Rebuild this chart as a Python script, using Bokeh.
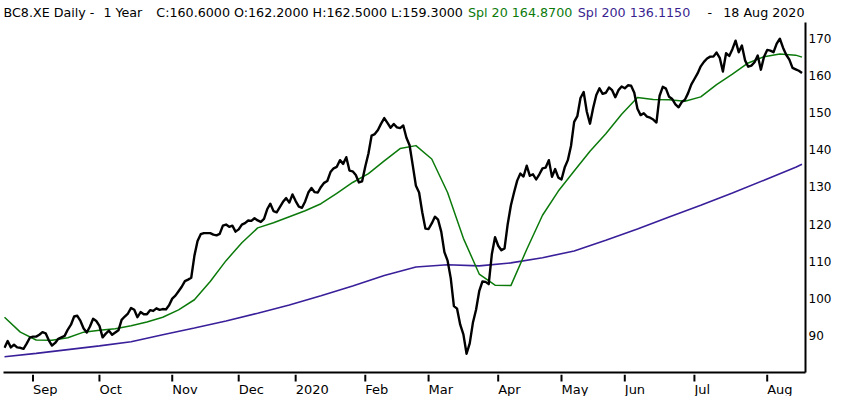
import pandas as pd
from bokeh.plotting import figure
from bokeh.layouts import column
from bokeh.models import Range1d, FixedTicker
from bokeh.core.properties import value
from bokeh.embed import file_html
from bokeh.resources import INLINE

# ---------------- data ----------------
START = "2019-08-20"
END = "2020-08-18"
HOLIDAYS = ["2019-12-24", "2019-12-25", "2019-12-26", "2019-12-31",
            "2020-01-01", "2020-04-10", "2020-04-13", "2020-05-01"]

CLOSE = [
    86.8, 88.6, 86.9, 87.6, 86.9, 86.8, 86.5, 87.9, 89.5, 89.8,
    89.8, 90.3, 91.0, 90.7, 88.8, 87.4, 88.1, 89.2, 89.6, 90.0,
    91.7, 93.0, 95.2, 95.4, 94.0, 92.0, 90.9, 92.5, 94.6, 94.0,
    92.7, 89.6, 90.6, 91.4, 90.3, 90.9, 91.5, 94.3, 95.2, 96.0,
    97.5, 97.0, 95.0, 96.4, 95.8, 95.8, 96.9, 96.7, 97.4, 97.0,
    97.2, 97.1, 98.2, 100.0, 100.8, 102.0, 103.2, 104.7, 105.1, 105.6,
    111.5, 115.5, 117.3, 117.6, 117.6, 117.6, 117.2, 117.0, 117.4, 119.6,
    119.9, 119.3, 119.6, 118.0, 118.6, 119.9, 120.3, 121.0, 120.9, 121.6,
    121.0, 120.6, 121.4, 124.0, 125.5, 123.5, 123.2, 124.6, 126.0, 127.0,
    125.8, 128.0, 126.2, 124.7, 124.4, 126.1, 128.5, 129.7, 128.6, 128.5,
    130.0, 131.1, 131.6, 134.0, 135.0, 135.4, 137.2, 136.2, 138.0, 134.4,
    134.2, 133.2, 131.2, 131.5, 135.5, 139.0, 143.8, 144.2, 145.3, 147.0,
    148.5, 147.2, 145.9, 146.9, 146.0, 145.8, 146.5, 143.2, 141.2, 135.8,
    130.3, 128.5, 123.2, 118.8, 118.7, 120.2, 122.0, 121.2, 118.0, 112.5,
    110.2, 105.5, 98.0, 97.3, 93.0, 90.4, 85.2, 88.0, 93.5, 97.0,
    102.0, 104.6, 104.5, 103.9, 112.0, 116.5, 114.2, 113.0, 113.5, 120.0,
    125.0, 128.5, 131.7, 133.6, 132.8, 135.7, 133.0, 133.4, 132.0, 133.4,
    135.0, 135.2, 137.2, 132.7, 134.8, 132.5, 132.0, 135.2, 137.2, 141.0,
    147.5, 149.0, 153.9, 155.5, 150.2, 147.0, 151.2, 154.7, 156.5, 155.0,
    155.3, 156.7, 156.0, 154.1, 156.0, 157.0, 156.5, 157.3, 157.2, 155.3,
    151.0, 149.3, 149.8, 148.9, 148.6, 148.1, 147.3, 154.5, 156.9, 156.4,
    154.2, 153.6, 152.2, 151.4, 152.8, 153.4, 155.2, 157.5, 159.0, 160.5,
    162.4, 163.6, 164.5, 165.0, 165.0, 166.1, 164.7, 161.0, 165.9, 165.2,
    167.0, 169.3, 166.2, 168.0, 164.0, 162.3, 162.6, 163.5, 165.3, 161.5,
    165.0, 166.8, 166.6, 166.2, 168.5, 169.8, 167.4, 165.5, 164.2, 162.0,
    161.6, 161.2, 160.6,
]

# 20-day average, read every 5 sessions (plus the last session)
SPL20 = [
    95.0, 91.0, 88.9, 88.8, 89.5, 91.0, 91.5, 91.9, 92.7, 93.7,
    95.0, 97.0, 99.7, 104.6, 110.2, 115.0, 119.0, 120.4, 122.0, 123.6,
    125.5, 128.3, 131.2, 133.6, 137.0, 140.3, 141.1, 137.5, 128.5, 116.2,
    106.6, 103.6, 103.5, 113.2, 122.4, 128.9, 134.3, 139.6, 144.3, 149.5,
    154.0, 153.5, 153.4, 153.0, 154.2, 157.5, 160.3, 163.3, 165.0, 165.7,
    165.4, 164.87,
]
SPL20_STEP = 5

# 200-day average, read every 10 sessions (plus the last session)
SPL200 = [
    84.4, 85.3, 86.3, 87.3, 88.4, 90.3, 92.1, 94.0, 96.1, 98.3,
    100.8, 103.4, 106.2, 108.5, 109.1, 108.8, 109.6, 111.0, 112.8, 115.7,
    118.7, 121.9, 125.1, 128.4, 131.8, 135.3, 136.115,
]
SPL200_STEP = 10

MONTH_LABELS = ["Sep", "Oct", "Nov", "Dec", "2020", "Feb", "Mar", "Apr",
                "May", "Jun", "Jul", "Aug"]
Y_TICKS = [90, 100, 110, 120, 130, 140, 150, 160, 170]

HEADER_TEXTS = ["BC8.XE Daily -", "1 Year",
                "C:160.6000 O:162.2000 H:162.5000 L:159.3000",
                "Spl 20 164.8700", "Spl 200 136.1150", "-", "18 Aug 2020"]
HEADER_COLORS = ["black", "black", "black", "#0b7a0b", "#3a1f8f", "black", "black"]

# ---------------- styling / layout ----------------
W = 834
HEAD_H, FOOT_H = 21, 22
MAIN_H = 396 - HEAD_H - FOOT_H
BL, BR = 3, 28
FONT = "DejaVu Sans"
BLACK_C, GREEN_C, PURPLE_C = "black", "#0b7a0b", "#3a1f9a"
HEADER_X = [3, 103, 156, 468, 578, 708, 805]      # canvas pixels
HEADER_ALIGN = ["left"] * 6 + ["right"]

# ---------------- derived ----------------
dates = pd.bdate_range(START, END)
dates = dates[~dates.isin(pd.to_datetime(HOLIDAYS))]
n = len(dates)
idx = list(range(n))
assert n == len(CLOSE)

months = dates.to_period("M")
month_starts = [i for i in range(1, n) if months[i] != months[i - 1]]


def sampled(step, count):
    xs = list(range(0, n, step))[:count - 1]
    xs.append(n - 1)
    return xs


spl20_x = sampled(SPL20_STEP, len(SPL20))
spl200_x = sampled(SPL200_STEP, len(SPL200))

xr = Range1d(-0.32, n + 0.1)
yr = Range1d(80.16, 174.17)

# ---------------- header ----------------
head = figure(width=W, height=HEAD_H, output_backend="svg", toolbar_location=None,
              x_range=Range1d(BL, W - BR), y_range=Range1d(0, HEAD_H),
              x_axis_location=None, y_axis_location=None,
              min_border_left=BL, min_border_right=BR,
              min_border_top=0, min_border_bottom=0)
head.outline_line_color = None
head.grid.visible = False
head.text(x=HEADER_X, y=[HEAD_H - 12] * len(HEADER_X), text=HEADER_TEXTS,
          text_color=HEADER_COLORS, text_align=HEADER_ALIGN,
          text_baseline="middle", text_font=value(FONT),
          text_font_size="12.7px")

# ---------------- main chart ----------------
p = figure(width=W, height=MAIN_H, output_backend="svg", toolbar_location=None,
           x_range=xr, y_range=yr, y_axis_location="right",
           min_border_left=BL, min_border_right=BR,
           min_border_top=1, min_border_bottom=2)
p.background_fill_color = "white"
p.border_fill_color = "white"
p.outline_line_color = None
p.grid.visible = False

xa = p.xaxis[0]
xa.ticker = FixedTicker(ticks=[])
xa.major_tick_out = 0
xa.major_tick_in = 0
xa.minor_tick_line_color = None
xa.major_label_standoff = 0
xa.axis_line_width = 2
xa.axis_line_color = "black"

ya = p.yaxis[0]
ya.ticker = FixedTicker(ticks=Y_TICKS)
ya.major_tick_out = 0
ya.major_tick_in = 0
ya.minor_tick_line_color = None
ya.axis_line_width = 2
ya.axis_line_color = "black"
ya.major_label_standoff = 3
ya.major_label_text_font = FONT
ya.major_label_text_font_size = "12px"
ya.major_label_text_color = "black"

p.line(spl200_x, SPL200, color=PURPLE_C, line_width=1.6)
p.line(spl20_x, SPL20, color=GREEN_C, line_width=1.5, line_join="round")
p.line(idx, CLOSE, color=BLACK_C, line_width=2.4, line_join="round")

# ---------------- footer (month ticks and labels) ----------------
foot = figure(width=W, height=FOOT_H, output_backend="svg", toolbar_location=None,
              x_range=xr, y_range=Range1d(0, FOOT_H),
              x_axis_location=None, y_axis_location=None,
              min_border_left=BL, min_border_right=BR,
              min_border_top=0, min_border_bottom=0)
foot.outline_line_color = None
foot.grid.visible = False
foot.segment(x0=month_starts, y0=[FOOT_H] * len(month_starts),
             x1=month_starts, y1=[FOOT_H - 7] * len(month_starts),
             line_color="black", line_width=2)
foot.text(x=month_starts, y=[7] * len(month_starts), text=MONTH_LABELS,
          text_align="left", text_baseline="middle", x_offset=0,
          text_font=value(FONT), text_font_size="13px", text_color="black")

layout = column(head, p, foot, spacing=0)
open("out.html", "w").write(file_html(layout, INLINE))
